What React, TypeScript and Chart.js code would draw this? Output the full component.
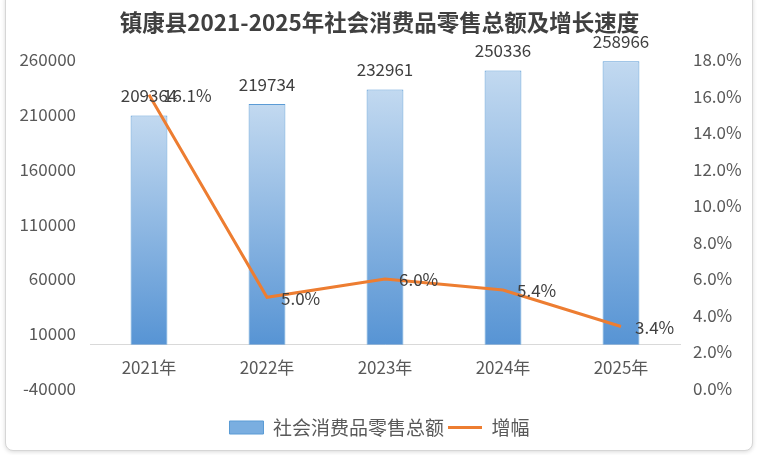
import { useEffect, useRef } from "react";
import { Chart, registerables } from "chart.js";

Chart.register(...registerables);

const FONT = '"Noto Sans CJK SC", "Noto Sans", sans-serif';

const years = ["2021年", "2022年", "2023年", "2024年", "2025年"];
const retailSales = [209364, 219734, 232961, 250336, 258966];
const growthRates = [16.1, 5.0, 6.0, 5.4, 3.4];

const salesMin = -40000;
const salesMax = 260000;
const salesStep = 50000;
const rateMin = 0;
const rateMax = 18;
const rateStep = 2;

// values above bars, percentages right of the line points
const valueLabels = {
  id: "valueLabels",
  afterDatasetsDraw(chart: any) {
    const { ctx } = chart;
    ctx.save();
    ctx.font = `17px ${FONT}`;
    ctx.fillStyle = "#404040";
    ctx.textBaseline = "middle";
    ctx.textAlign = "center";
    chart.getDatasetMeta(0).data.forEach((el: any, i: number) => {
      ctx.fillText(String(retailSales[i]), el.x, el.y - 20);
    });
    ctx.textAlign = "left";
    chart.getDatasetMeta(1).data.forEach((pt: any, i: number) => {
      ctx.fillText(growthRates[i].toFixed(1) + "%", pt.x + 14, pt.y + 1);
    });
    ctx.restore();
  },
};

function barFill(c: any) {
  const chart = c.chart;
  if (!chart.chartArea || c.type !== "data") return "#7aaee0";
  const y = chart.scales.y;
  const top = y.getPixelForValue(c.raw);
  const bottom = y.getPixelForValue(0);
  const g = chart.ctx.createLinearGradient(0, top, 0, bottom);
  g.addColorStop(0, "#c2d9f0");
  g.addColorStop(1, "#5794d4");
  return g;
}

export default function App() {
  const canvasRef = useRef<HTMLCanvasElement>(null);

  useEffect(() => {
    if (!canvasRef.current) return;
    const chart = new Chart(canvasRef.current, {
      type: "bar",
      data: {
        labels: years,
        datasets: [
          {
            type: "bar",
            label: "社会消费品零售总额",
            data: retailSales,
            yAxisID: "y",
            backgroundColor: barFill,
            borderColor: "#5b9bd5",
            borderWidth: 1,
            barPercentage: 0.39,
            categoryPercentage: 0.8,
            pointStyle: "rect",
            order: 1,
          },
          {
            type: "line",
            label: "增幅",
            data: growthRates,
            yAxisID: "y1",
            borderColor: "#ed7d31",
            backgroundColor: "#ed7d31",
            borderWidth: 3,
            pointRadius: 0,
            pointStyle: "line",
            tension: 0,
            order: 0,
          },
        ],
      } as any,
      options: {
        responsive: false,
        animation: false,
        layout: { padding: { top: 0, bottom: 8, left: 0, right: 0 } },
        plugins: {
          title: {
            display: true,
            text: "镇康县2021-2025年社会消费品零售总额及增长速度",
            color: "#404040",
            font: { family: FONT, size: 22.5, weight: "bold" },
            padding: { top: 8.5, bottom: 24.5 },
          },
          legend: {
            position: "bottom",
            title: {
              display: true,
              text: "",
              padding: { top: 25.5, bottom: 0 },
              font: { size: 1, lineHeight: 0 },
            },
            labels: {
              usePointStyle: true,
              pointStyleWidth: 34,
              boxHeight: 13,
              padding: 4,
              color: "#595959",
              font: { family: FONT, size: 19 },
              sort: (a: any, b: any) => a.datasetIndex - b.datasetIndex,
              generateLabels: (ch: any) =>
                Chart.defaults.plugins.legend.labels
                  .generateLabels(ch)
                  .map((item: any) =>
                    item.datasetIndex === 0 ? { ...item, fillStyle: "#7aaee0" } : item
                  ),
            },
          },
          tooltip: { enabled: false },
        },
        scales: {
          x: {
            position: { y: 0 },
            grid: { display: false, drawTicks: false },
            border: { display: true, color: "#d9d9d9", width: 1 },
            ticks: { padding: 13, color: "#595959", font: { family: FONT, size: 17 } },
          },
          y: {
            position: "left",
            min: salesMin,
            max: salesMax,
            grid: { display: false, drawTicks: false },
            border: { display: false },
            ticks: {
              stepSize: salesStep,
              padding: 14,
              color: "#595959",
              font: { family: FONT, size: 17 },
              callback: (v: any) => String(v),
            },
            afterFit: (s: any) => {
              s.width = 90;
            },
          },
          y1: {
            position: "right",
            min: rateMin,
            max: rateMax,
            grid: { display: false, drawTicks: false },
            border: { display: false },
            ticks: {
              stepSize: rateStep,
              padding: 13,
              color: "#595959",
              font: { family: FONT, size: 17 },
              callback: (v: any) => Number(v).toFixed(1) + "%",
            },
            afterFit: (s: any) => {
              s.width = 79;
            },
          },
        },
      } as any,
      plugins: [valueLabels],
    });
    return () => chart.destroy();
  }, []);

  return (
    <div style={{ position: "fixed", left: 0, top: 0, width: 759, height: 455, background: "#fff", overflow: "hidden" }}>
      <div
        style={{
          position: "absolute",
          left: 5,
          top: -8,
          width: 746,
          height: 457,
          border: "1px solid #d6d6d6",
          borderRadius: 8,
          boxShadow: "0 1px 4px rgba(0,0,0,0.15)",
          background: "#fff",
        }}
      />
      <canvas ref={canvasRef} width={759} height={455} style={{ position: "absolute", left: 0, top: 0 }} />
    </div>
  );
}
